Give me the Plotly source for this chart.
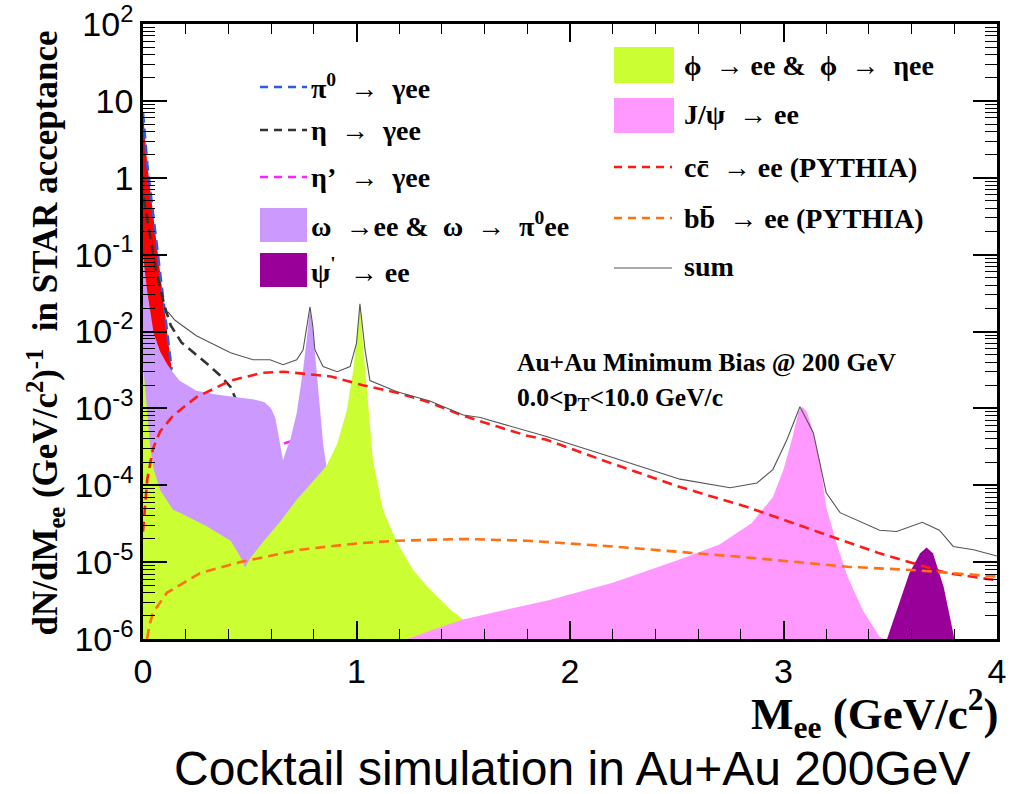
import plotly.graph_objects as go

# ---------------- data (M in GeV/c^2, dN/dM) ----------------
pi0_m = [0.0, 0.01, 0.02, 0.04, 0.06, 0.08, 0.10, 0.12, 0.13, 0.134]
pi0_y = [7.0, 3.3, 1.5, 0.5, 0.17, 0.058, 0.021, 0.0075, 0.0042, 0.0032]

eta_m = [0.003, 0.02, 0.06, 0.10, 0.13, 0.18, 0.25, 0.30, 0.36, 0.41, 0.45, 0.50, 0.54]
eta_y = [0.55, 0.3, 0.065, 0.022, 0.012, 0.0072, 0.0050, 0.0038, 0.0027, 0.0019, 0.00105, 0.0005, 0.0001]

etap_m = [0.01, 0.10, 0.30, 0.50, 0.62, 0.66, 0.70, 0.75, 0.80, 0.85, 0.90, 0.95]
etap_y = [0.01, 0.002, 0.0008, 0.00045, 0.00035, 0.00035, 0.00038, 0.00025, 0.00015, 0.00008, 0.00003, 0.000003]

omega_m = [0.0, 0.01, 0.02, 0.05, 0.08, 0.11, 0.13, 0.17, 0.25, 0.35, 0.44, 0.52, 0.57, 0.60,
           0.62, 0.64, 0.656, 0.67, 0.69, 0.72, 0.75, 0.77, 0.782, 0.797, 0.815, 0.83, 0.845,
           0.86, 0.90, 0.95, 1.0, 1.05]
omega_y = [0.1, 0.06, 0.033, 0.0095, 0.0055, 0.0039, 0.0032, 0.0023, 0.0017, 0.0015, 0.0014,
           0.0013, 0.0012, 0.0010, 0.00075, 0.00035, 0.00021, 0.00028, 0.00039, 0.00087, 0.0032,
           0.0095, 0.021, 0.0095, 0.0026, 0.00096, 0.00032, 0.00017, 0.00007, 0.000025, 0.000006,
           0.000001]

phi_m = [0.0, 0.01, 0.02, 0.033, 0.05, 0.08, 0.14, 0.173, 0.30, 0.41, 0.454, 0.478, 0.50, 0.56,
         0.64, 0.72, 0.80, 0.86, 0.91, 0.955, 0.985, 1.005, 1.018, 1.03, 1.05, 1.077, 1.124,
         1.19, 1.265, 1.344, 1.44, 1.50, 1.55]
phi_y = [0.0037, 0.002, 0.0009, 0.00032, 0.00016, 0.000087, 0.000048, 0.000044, 0.000029,
         0.000019, 0.000012, 0.0000085, 0.000011, 0.000018, 0.000033, 0.000065, 0.000115,
         0.00018, 0.00035, 0.00095, 0.0032, 0.011, 0.023, 0.007, 0.0016, 0.00021, 0.000048,
         0.000018, 0.0000079, 0.0000044, 0.0000024, 0.0000018, 0.000001]

jpsi_m = [1.24, 1.35, 1.50, 1.70, 1.90, 2.20, 2.50, 2.70, 2.85, 2.95, 3.00, 3.04, 3.07, 3.09,
          3.11, 3.13, 3.17, 3.20, 3.25, 3.30, 3.37, 3.45, 3.47]
jpsi_y = [0.000001, 0.0000013, 0.0000018, 0.0000024, 0.0000032, 0.0000054, 0.0000105, 0.000017,
          0.000032, 0.00007, 0.00016, 0.0004, 0.0009, 0.00105, 0.0009, 0.0006, 0.00021, 0.000052,
          0.000017, 0.0000065, 0.0000024, 0.00000107, 0.000001]

psi2s_m = [3.485, 3.545, 3.59, 3.64, 3.67, 3.70, 3.75, 3.795, 3.80]
psi2s_y = [0.000001, 0.0000032, 0.0000072, 0.000013, 0.0000155, 0.000013, 0.0000048, 0.0000012, 0.000001]

ccbar_m = [0.0, 0.005, 0.02, 0.047, 0.08, 0.14, 0.25, 0.41, 0.56, 0.66, 0.72, 0.88, 1.03, 1.19,
           1.34, 1.50, 1.66, 1.80, 1.89, 2.20, 2.515, 2.83, 3.14, 3.45, 3.765, 4.0]
ccbar_y = [0.000025, 0.00004, 0.00012, 0.0003, 0.0005, 0.0008, 0.0014, 0.0023, 0.0029, 0.003,
           0.0029, 0.0026, 0.002, 0.0016, 0.0012, 0.0008, 0.00058, 0.00044, 0.00039, 0.00019,
           0.000095, 0.000052, 0.000026, 0.000013, 0.0000072, 0.0000058]

bbbar_m = [0.019, 0.03, 0.047, 0.112, 0.267, 0.454, 0.735, 1.0, 1.19, 1.50, 1.80, 2.20, 2.83,
           3.30, 3.60, 4.0]
bbbar_y = [0.000001, 0.0000015, 0.0000022, 0.000004, 0.0000072, 0.00001, 0.0000145, 0.0000175,
           0.000019, 0.00002, 0.000019, 0.000016, 0.0000115, 0.0000087, 0.0000079, 0.0000065]

sum_m = [0.117, 0.15, 0.25, 0.41, 0.515, 0.595, 0.656, 0.72, 0.75, 0.77, 0.782, 0.795, 0.805,
         0.843, 0.91, 0.97, 1.0, 1.016, 1.03, 1.04, 1.063, 1.19, 1.344, 1.50, 1.58, 1.89, 2.20,
         2.515, 2.75, 2.876, 2.95, 3.016, 3.077, 3.14, 3.20, 3.265, 3.45, 3.53, 3.65, 3.73, 3.795,
         3.89, 4.0]
sum_y = [0.018, 0.014, 0.0088, 0.0053, 0.0043, 0.0043, 0.0037, 0.0043, 0.0058, 0.012, 0.021,
         0.012, 0.0058, 0.0035, 0.003, 0.0035, 0.007, 0.023, 0.009, 0.0058, 0.0023, 0.00165,
         0.00125, 0.00082, 0.00076, 0.00043, 0.00023, 0.00012, 0.000093, 0.000107, 0.00016,
         0.00039, 0.00105, 0.00048, 0.00008, 0.000044, 0.000026, 0.000025, 0.000033, 0.000026,
         0.000016, 0.0000145, 0.000012]

x_ticks = [0, 1, 2, 3, 4]
x_ticktext = ["0", "1", "2", "3", "4"]
y_ticks = [1e-6, 1e-5, 1e-4, 1e-3, 1e-2, 1e-1, 1, 10, 100]
y_ticktext = ["10<sup>-6</sup>", "10<sup>-5</sup>", "10<sup>-4</sup>", "10<sup>-3</sup>",
              "10<sup>-2</sup>", "10<sup>-1</sup>", "1", "10", "10<sup>2</sup>"]

# ---------------- styling ----------------
C_PI0 = "#2b5be8"
C_ETA = "#333333"
C_ETAP = "#ff22ff"
C_OMEGA = "#cc99ff"
C_PHI = "#ccff33"
C_JPSI = "#ff99ff"
C_PSI2S = "#990099"
C_CC = "#ff1a1a"
C_BB = "#ff7010"
C_SUM = "#555555"
C_PI0FILL = "#ff0000"
DASH = "10px,6px"
SERIF = "Liberation Serif"
SANS = "Liberation Sans"

W, H = 1010, 794
L, R, T, B = 143, 997, 24, 639


def pxx(x):
    return (x - L) / (R - L)


def pxy(y):
    return (B - y) / (B - T)


fig = go.Figure()


def fill_trace(m, y, color):
    fig.add_trace(go.Scatter(x=m, y=y, mode="lines", fill="tozeroy", fillcolor=color,
                             line=dict(width=0, color=color), showlegend=False,
                             hoverinfo="skip"))


def line_trace(m, y, color, width=2.6, dash=DASH):
    fig.add_trace(go.Scatter(x=m, y=y, mode="lines", line=dict(color=color, width=width, dash=dash),
                             showlegend=False, hoverinfo="skip"))


fill_trace(pi0_m, pi0_y, C_PI0FILL)
line_trace(pi0_m, pi0_y, C_PI0)
line_trace(eta_m, eta_y, C_ETA)
line_trace(etap_m, etap_y, C_ETAP)
fill_trace(omega_m, omega_y, C_OMEGA)
fill_trace(phi_m, phi_y, C_PHI)
fill_trace(jpsi_m, jpsi_y, C_JPSI)
fill_trace(psi2s_m, psi2s_y, C_PSI2S)
line_trace(ccbar_m, ccbar_y, C_CC)
line_trace(bbbar_m, bbbar_y, C_BB)
line_trace(sum_m, sum_y, C_SUM, width=1.1, dash="solid")

# ---------------- manual legend (ROOT style) ----------------
shapes = []
annotations = []


def leg_line(x0, x1, y, color, dash="dash", width=2.6):
    shapes.append(dict(type="line", xref="paper", yref="paper", x0=pxx(x0), x1=pxx(x1),
                       y0=pxy(y), y1=pxy(y), line=dict(color=color, width=width, dash=dash)))


def leg_box(x0, x1, y0, y1, color):
    shapes.append(dict(type="rect", xref="paper", yref="paper", x0=pxx(x0), x1=pxx(x1),
                       y0=pxy(y1), y1=pxy(y0), fillcolor=color, line=dict(width=0)))


def leg_text(x, y, text, size=28):
    annotations.append(dict(xref="paper", yref="paper", x=pxx(x), y=pxy(y), text=text,
                            showarrow=False, xanchor="left", yanchor="middle",
                            font=dict(family=SERIF, size=size, color="black")))


NB = "\u00a0"
leg_line(260, 307, 87, C_PI0, dash="8px,6px")
leg_text(309, 87, "<b>π<sup>0</sup>" + NB * 2 + "→" + NB * 2 + "γee</b>")
leg_line(260, 307, 130, C_ETA, dash="8px,6px")
leg_text(309, 130, "<b>η" + NB * 2 + "→" + NB * 2 + "γee</b>")
leg_line(260, 307, 177, C_ETAP, dash="8px,6px")
leg_text(309, 177, "<b>η’" + NB * 2 + "→" + NB * 2 + "γee</b>")
leg_box(260, 307, 208, 242, C_OMEGA)
leg_text(309, 225, "<b>ω" + NB * 2 + "→ee &amp;" + NB * 2 + "ω" + NB * 2 + "→" + NB * 2 + "π<sup>0</sup>ee</b>")
leg_box(260, 307, 253, 287, C_PSI2S)
leg_text(309, 270, "<b>ψ<sup>'</sup>" + NB * 2 + "→ ee</b>")

leg_box(614, 674, 47, 83, C_PHI)
leg_text(682, 65, "<b>ϕ" + NB * 2 + "→ ee &amp;" + NB * 2 + "ϕ" + NB * 2 + "→" + NB * 2 + "ηee</b>")
leg_box(614, 674, 98, 133, C_JPSI)
leg_text(682, 115, "<b>J/ψ" + NB * 2 + "→ ee</b>")
leg_line(614, 672, 167, C_CC, dash="8px,6px")
leg_text(682, 167, "<b>cc\u0304" + NB * 2 + "→ ee (PYTHIA)</b>")
leg_line(614, 672, 218, C_BB, dash="8px,6px")
leg_text(682, 218, "<b>bb\u0304" + NB * 2 + "→ ee (PYTHIA)</b>")
leg_line(614, 672, 268, C_SUM, dash="solid", width=1.1)
leg_text(682, 266, "<b>sum</b>")

# info text
leg_text(515, 362, "<b>Au+Au Minimum Bias @ 200 GeV</b>", size=25.5)
leg_text(515, 399, "<b>0.0&lt;p<sub>T</sub>&lt;10.0 GeV/c</b>", size=25.5)

# axis titles
annotations.append(dict(xref="paper", yref="paper", x=pxx(45), y=pxy(29),
                        text="<b>dN/dM<sub>ee</sub> (GeV/c<sup>2</sup>)<sup>-1</sup>" + NB * 2 +
                             "in STAR acceptance</b>",
                        textangle=-90, showarrow=False, xanchor="center", yanchor="top",
                        font=dict(family=SERIF, size=35, color="black")))
annotations.append(dict(xref="paper", yref="paper", x=pxx(1000), y=pxy(713),
                        text="<b>M<sub>ee</sub> (GeV/c<sup>2</sup>)</b>",
                        showarrow=False, xanchor="right", yanchor="middle",
                        font=dict(family=SERIF, size=45, color="black")))
annotations.append(dict(xref="paper", yref="paper", x=pxx(572), y=pxy(797),
                        text="Cocktail simulation in Au+Au 200GeV",
                        showarrow=False, xanchor="center", yanchor="bottom",
                        font=dict(family=SANS, size=48, color="black")))

minor_y = [k * 10.0 ** n for n in range(-6, 2) for k in range(2, 10)]

fig.update_layout(
    width=W, height=H,
    margin=dict(l=L, r=W - R, t=T, b=H - B, autoexpand=False),
    paper_bgcolor="white", plot_bgcolor="white",
    shapes=shapes, annotations=annotations,
    showlegend=False,
    xaxis=dict(range=[0, 4], tickmode="array", tickvals=x_ticks, ticktext=x_ticktext,
               ticks="inside", ticklen=18, tickwidth=1.5, tickcolor="black",
               showline=True, linecolor="black", linewidth=2.5, mirror="allticks",
               showgrid=False, zeroline=False, ticklabeloverflow="allow", automargin=False,
               tickfont=dict(family=SANS, size=34, color="black"),
               minor=dict(dtick=0.2, ticks="inside", ticklen=10, tickwidth=1.2,
                          tickcolor="black", showgrid=False)),
    yaxis=dict(type="log", range=[-6, 2], tickmode="array", tickvals=y_ticks,
               ticktext=y_ticktext,
               ticks="inside", ticklen=24, tickwidth=1.5, tickcolor="black",
               showline=True, linecolor="black", linewidth=2.5, mirror="allticks",
               showgrid=False, zeroline=False, ticklabeloverflow="allow", automargin=False,
               tickfont=dict(family=SANS, size=34, color="black"),
               minor=dict(tickmode="array", tickvals=minor_y, ticks="inside", ticklen=12,
                          tickwidth=1.2, tickcolor="black", showgrid=False)),
)

fig.write_html("out.html")
